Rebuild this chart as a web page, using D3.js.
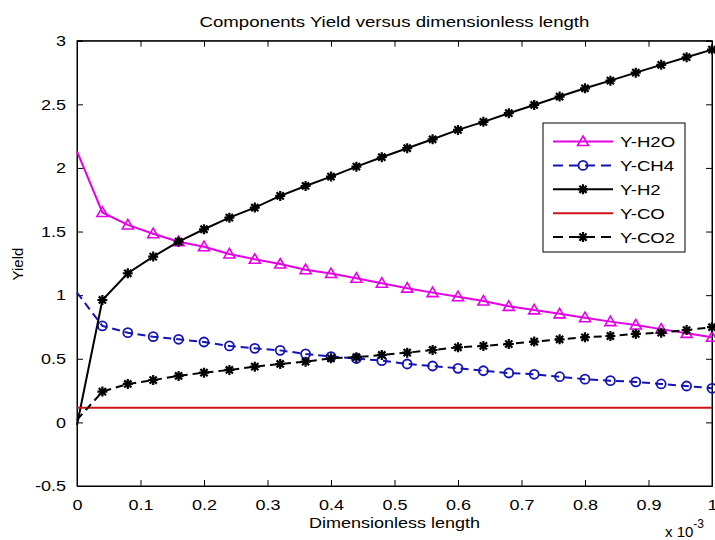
<!DOCTYPE html>
<html><head><meta charset="utf-8">
<script src="https://cdn.jsdelivr.net/npm/d3@7"></script>
<style>body{margin:0;background:#fff}svg{display:block}text{font-family:"Liberation Sans",Arial,sans-serif;fill:#000}</style>
</head><body>
<svg id="c" width="715" height="540"></svg>
<script>
// x in units of 1e-3
const xVals = [0,0.04,0.08,0.12,0.16,0.20,0.24,0.28,0.32,0.36,0.40,0.44,0.48,0.52,0.56,0.60,0.64,0.68,0.72,0.76,0.80,0.84,0.88,0.92,0.96,1.00];
const yH2O = [2.13,1.65,1.552,1.483,1.42,1.381,1.324,1.282,1.245,1.2,1.17,1.133,1.094,1.055,1.02,0.988,0.954,0.912,0.884,0.853,0.823,0.792,0.766,0.733,0.700,0.669];
const yCH4 = [1.02,0.758,0.705,0.674,0.653,0.632,0.601,0.582,0.566,0.538,0.517,0.502,0.485,0.459,0.443,0.425,0.406,0.388,0.378,0.359,0.340,0.328,0.318,0.302,0.286,0.268];
const yH2  = [-0.02,0.962,1.172,1.303,1.42,1.518,1.609,1.688,1.78,1.858,1.932,2.01,2.084,2.155,2.225,2.299,2.362,2.43,2.495,2.561,2.626,2.686,2.749,2.81,2.87,2.93];
const yCO  = [0.115,0.115,0.115,0.115,0.115,0.115,0.115,0.115,0.115,0.115,0.115,0.115,0.115,0.115,0.115,0.115,0.115,0.115,0.115,0.115,0.115,0.115,0.115,0.115,0.115,0.115];
const yCO2 = [0.02,0.242,0.302,0.333,0.365,0.391,0.412,0.438,0.459,0.477,0.504,0.512,0.53,0.548,0.569,0.59,0.601,0.616,0.635,0.653,0.669,0.679,0.695,0.705,0.726,0.748];
const xTicks = [0,0.1,0.2,0.3,0.4,0.5,0.6,0.7,0.8,0.9,1];
const xTickLabels = ["0","0.1","0.2","0.3","0.4","0.5","0.6","0.7","0.8","0.9","1"];
const yTicks = [-0.5,0,0.5,1,1.5,2,2.5,3];
const yTickLabels = ["-0.5","0","0.5","1","1.5","2","2.5","3"];
const seriesNames = ["Y-H2O","Y-CH4","Y-H2","Y-CO","Y-CO2"];

const series = [
  {name:seriesNames[0], y:yH2O, color:"#e600e6", dash:null, marker:"tri"},
  {name:seriesNames[1], y:yCH4, color:"#1414b4", dash:"8,5", marker:"circ"},
  {name:seriesNames[2], y:yH2, color:"#000", dash:null, marker:"star"},
  {name:seriesNames[3], y:yCO, color:"#d01414", dash:null, marker:null},
  {name:seriesNames[4], y:yCO2, color:"#000", dash:"8,5", marker:"star"}
];

const L=77, R=712, T=40.7, B=486;
const svg = d3.select("#c");
const x = d3.scaleLinear().domain([0,1]).range([L,R]);
const y = d3.scaleLinear().domain([-0.5,3]).range([B,T]);
const STRETCH = 1.2;
function stretch(sel){ sel.each(function(){ const w=this.getComputedTextLength(); this.setAttribute("textLength", w*STRETCH); this.setAttribute("lengthAdjust","spacingAndGlyphs"); }); }

// axes box
svg.append("rect").attr("x",L).attr("y",T).attr("width",R-L).attr("height",B-T).attr("fill","#fff").attr("stroke","#000").attr("stroke-width",1);

// ticks (inward, all sides)
const axB = d3.axisBottom(x).tickValues(xTicks).tickSize(-6).tickFormat((d,i)=>xTickLabels[i]).tickPadding(10);
const gB = svg.append("g").attr("transform",`translate(0,${B})`).call(axB);
const axT = d3.axisTop(x).tickValues(xTicks).tickSize(-6).tickFormat("");
const gT = svg.append("g").attr("transform",`translate(0,${T})`).call(axT);
const axLf = d3.axisLeft(y).tickValues(yTicks).tickSize(-6).tickFormat((d,i)=>yTickLabels[i]).tickPadding(11);
const gL = svg.append("g").attr("transform",`translate(${L},0)`).call(axLf);
const axRt = d3.axisRight(y).tickValues(yTicks).tickSize(-6).tickFormat("");
const gR = svg.append("g").attr("transform",`translate(${R},0)`).call(axRt);
[gB,gT,gL,gR].forEach(g=>{ g.select(".domain").attr("stroke","#000"); g.selectAll(".tick line").attr("stroke","#000"); g.selectAll("text").attr("font-size",15).attr("font-family","Liberation Sans, Arial, sans-serif").attr("fill","#000"); });
gB.selectAll(".tick text").attr("dy","0.9em");
stretch(gB.selectAll(".tick text")); stretch(gL.selectAll(".tick text"));

// lines
const line = d3.line().x((d,i)=>x(xVals[i])).y(d=>y(d));
function drawMarker(g, type, cx, cy, color){
  if(type==="tri"){
    g.append("path").attr("d",`M${cx},${cy-5.5}L${cx+5.5},${cy+4}L${cx-5.5},${cy+4}Z`).attr("fill","none").attr("stroke",color).attr("stroke-width",1.6);
  } else if(type==="circ"){
    g.append("circle").attr("cx",cx).attr("cy",cy).attr("r",4.5).attr("fill","none").attr("stroke",color).attr("stroke-width",1.8);
  } else if(type==="star"){
    const s=5, d=3.6;
    g.append("path").attr("d",`M${cx-s},${cy}L${cx+s},${cy}M${cx},${cy-s}L${cx},${cy+s}M${cx-d},${cy-d}L${cx+d},${cy+d}M${cx-d},${cy+d}L${cx+d},${cy-d}`).attr("stroke",color).attr("stroke-width",2.2).attr("fill","none");
  }
}
const plot = svg.append("g");
series.forEach(s=>{
  plot.append("path").attr("d",line(s.y)).attr("fill","none").attr("stroke",s.color).attr("stroke-width",2).attr("stroke-dasharray",s.dash);
  if(s.marker){
    s.y.forEach((v,i)=>{ if(i>0) drawMarker(plot, s.marker, x(xVals[i]), y(v), s.color); });
  }
});

// legend
const lg = svg.append("g");
lg.append("rect").attr("x",543).attr("y",123).attr("width",142).attr("height",129).attr("fill","#fff").attr("stroke","#000").attr("stroke-width",1);
series.forEach((s,i)=>{
  const cy = 141.5 + i*23.9;
  lg.append("line").attr("x1",553).attr("x2",613).attr("y1",cy).attr("y2",cy).attr("stroke",s.color).attr("stroke-width",2).attr("stroke-dasharray",s.dash?"10,6":null);
  if(s.marker) drawMarker(lg, s.marker, 583, cy, s.color);
  lg.append("text").attr("x",620).attr("y",cy).attr("dy","0.36em").attr("font-size",15.5).text(s.name);
});
stretch(lg.selectAll("text"));

// titles
svg.append("text").attr("x",(L+R)/2).attr("y",27).attr("text-anchor","middle").attr("font-size",15.5).text("Components Yield versus dimensionless length").call(stretch);
svg.append("text").attr("x",(L+R)/2).attr("y",528).attr("text-anchor","middle").attr("font-size",15).text("Dimensionless length").call(stretch);
svg.append("text").attr("transform","translate(23,264) rotate(-90)").attr("text-anchor","middle").attr("font-size",15).text("Yield");
const ex = svg.append("text").attr("x",665).attr("y",537).attr("font-size",15);
ex.append("tspan").text("x 10");
ex.append("tspan").attr("dy",-9).attr("font-size",12).text("-3");
</script>
</body></html>
